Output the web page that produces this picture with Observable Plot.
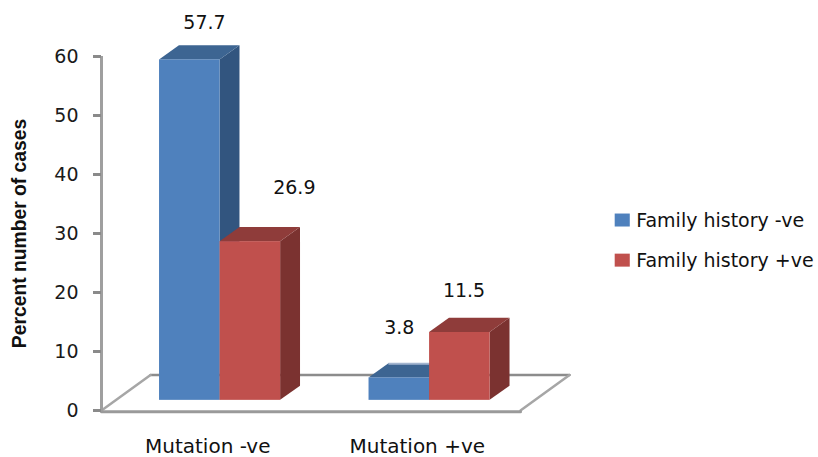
<!DOCTYPE html>
<html>
<head>
<meta charset="utf-8">
<script src="https://cdn.jsdelivr.net/npm/d3@7"></script>
<script src="https://cdn.jsdelivr.net/npm/@observablehq/plot@0.6"></script>
<style>
  html, body { margin: 0; padding: 0; background: #fff; }
  svg { display: block; }
</style>
</head>
<body>
<div id="chart"></div>
<script>
// Mutation status by family history, in percent of cases
const categories = ["Mutation -ve", "Mutation +ve"];
const seriesNames = ["Family history -ve", "Family history +ve"];
const familyNegative = [57.7, 3.8];
const familyPositive = [26.9, 11.5];
const yTicks = [0, 10, 20, 30, 40, 50, 60];

// Face colours for each series: front, top, side
const faces = [
  { front: "#4f81bd", top: "#3d6592", side: "#32557f" },
  { front: "#c0504d", top: "#8f3c3a", side: "#7b3230" }
];

// Pseudo-3D geometry, in scale units (x: one unit per category, y: percent)
const floorDepthX = 0.234, floorDepthY = 6;
const barStart = 0.277, barWidth = 0.289;
const barDepthX = 0.095, barDepthY = 2.4;
const barLift = 1.72;

// Where each value label sits relative to the centre and top of its bar
const labelShiftX = [[0.07, 0], [0.21, 0.02]];
const labelShiftY = [[6.3, 8.5], [9.1, 7]];

const bars = [familyNegative, familyPositive].flatMap((values, s) =>
  values.map((value, c) => ({
    series: s,
    category: c,
    value,
    x1: c + barStart + s * barWidth,
    x2: c + barStart + (s + 1) * barWidth,
    y1: barLift,
    y2: barLift + value,
    labelX: c + barStart + (s + 0.5) * barWidth + labelShiftX[s][c],
    labelY: barLift + value + labelShiftY[s][c],
    ...faces[s]
  }))
);

// Side and top of each bar, as slanted parallelograms
const sideFace = (b) => [
  { x: b.x2, y1: b.y1, y2: b.y2 },
  { x: b.x2 + barDepthX, y1: b.y1 + barDepthY, y2: b.y2 + barDepthY }
];
const topFace = (b) => [
  { y: b.y2, x1: b.x1, x2: b.x2 },
  { y: b.y2 + barDepthY, x1: b.x1 + barDepthX, x2: b.x2 + barDepthX }
];

const barMarks = (b) => [
  Plot.areaY(sideFace(b), { x: "x", y1: "y1", y2: "y2", fill: b.side }),
  Plot.areaX(topFace(b), { y: "y", x1: "x1", x2: "x2", fill: b.top }),
  Plot.rect([b], { x1: "x1", x2: "x2", y1: "y1", y2: "y2", fill: b.front })
];

// Floor of the chart: back edge, two slanted sides, front edge
const floorBack = [{ x: floorDepthX, y: floorDepthY }, { x: 2 + floorDepthX, y: floorDepthY }];
const floorLeft = [{ x: 0, y: 0 }, { x: floorDepthX, y: floorDepthY }];
const floorRight = [{ x: 2, y: 0 }, { x: 2 + floorDepthX, y: floorDepthY }];
const floorFront = [{ x: 0, y: -0.2 }, { x: 2, y: -0.2 }];

// Legend placed in the right-hand gutter
const legendX = 2.452, legendSwatchWidth = 0.072, legendSwatchHalf = 1.1;
const legendRows = [32.2, 25.4];
const legend = seriesNames.map((name, i) => ({
  name,
  y: legendRows[i],
  fill: faces[i].front
}));

const chart = Plot.plot({
  width: 818,
  height: 457,
  marginLeft: 101,
  marginRight: 298,
  marginTop: 56,
  marginBottom: 47,
  style: { background: "#fff", fontFamily: "DejaVu Sans, sans-serif" },
  x: { domain: [0, 2], axis: null },
  y: { domain: [0, 60], axis: null },
  marks: [
    // Floor
    Plot.line(floorBack, { x: "x", y: "y", stroke: "#8c8c8c", strokeWidth: 2.5 }),
    Plot.line(floorLeft, { x: "x", y: "y", stroke: "#a6a6a6", strokeWidth: 2.5 }),
    Plot.line(floorRight, { x: "x", y: "y", stroke: "#a6a6a6", strokeWidth: 2.5 }),
    Plot.line(floorFront, { x: "x", y: "y", stroke: "#9a9a9a", strokeWidth: 3 }),

    // Bars, back to front within each group
    ...bars.filter((b) => b.series === 0).flatMap(barMarks),
    // Pale edge along the back of the shortest bar's top
    Plot.ruleY(bars.filter((b) => b.value === 3.8), {
      y: (b) => b.y2 + barDepthY,
      x1: (b) => b.x1 + barDepthX,
      x2: (b) => b.x2,
      stroke: "#a3b5cf",
      strokeWidth: 2
    }),
    ...bars.filter((b) => b.series === 1).flatMap(barMarks),

    // Value axis
    Plot.ruleX([0], { y1: 0, y2: 60, stroke: "#9f9f9f", strokeWidth: 3 }),
    Plot.axisY(yTicks, {
      anchor: "left",
      tickSize: 8,
      tickPadding: 15,
      strokeWidth: 3,
      stroke: "#8a8a8a",
      fontSize: 19,
      fill: "#1a1a1a",
      label: null
    }),
    Plot.text([{ label: "Percent number of cases", x: -0.391, y: 30 }], {
      x: "x",
      y: "y",
      text: "label",
      rotate: -90,
      fontSize: 19.3,
      fontWeight: "bold",
      fontFamily: "Liberation Sans, sans-serif",
      fill: "#111"
    }),

    // Category labels
    Plot.text(categories, {
      x: (d, i) => i + 0.5,
      y: -6.1,
      text: (d) => d,
      dx: 1.5,
      fontSize: 20,
      fill: "#111"
    }),

    // Value labels
    Plot.text(bars, {
      x: "labelX",
      y: "labelY",
      text: (b) => b.value.toFixed(1),
      fontSize: 19,
      fill: "#111"
    }),

    // Legend
    Plot.rect(legend, {
      x1: legendX,
      x2: legendX + legendSwatchWidth,
      y1: (d) => d.y - legendSwatchHalf,
      y2: (d) => d.y + legendSwatchHalf,
      fill: "fill"
    }),
    Plot.text(legend, {
      x: legendX + legendSwatchWidth,
      y: "y",
      dx: 6,
      text: "name",
      textAnchor: "start",
      fontSize: 19,
      fill: "#111"
    })
  ]
});

document.getElementById("chart").appendChild(chart);
</script>
</body>
</html>
